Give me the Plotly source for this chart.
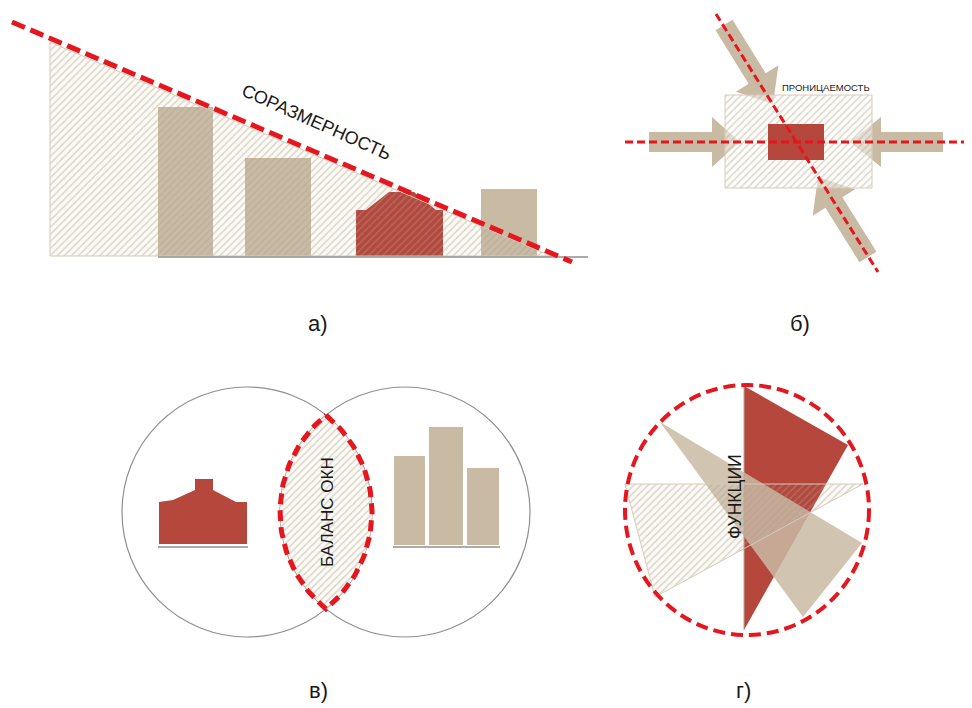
import numpy as np
import plotly.graph_objects as go

W, H = 972, 708
OFF = 8  # page body margin
TAN = "#c9baa3"
RED = "#b5473d"
DASH_RED = "#e5161d"
HATCH = "rgba(168,160,146,0.8)"
HATCH_EDGE = "#d6cbb9"
CREAM = "#fcfaf4"
GREY = "#8f8f8f"

# ---------- panel а) ----------
a_bars_x0 = [158, 245, 481]
a_bars_x1 = [213, 311, 537]
a_bars_top = [107, 158, 189]
a_base_y = 256
a_house_x = [356, 356, 366, 389, 414, 436, 443, 443]
a_house_y = [256, 210, 210, 192, 192, 210, 210, 256]
a_hatch_x = [50, 50, 551]
a_hatch_y = [42, 256, 256]
a_dash_x = [12, 572]
a_dash_y = [22, 262]
a_baseline_x = [158, 588]

# ---------- panel б) ----------
b_hatch_rect = [725, 95, 872, 188]
b_red_rect = [768, 124, 824, 160]
b_hline_x = [625, 970]
b_hline_y = [142, 142]
b_diag_x = [716, 878]
b_diag_y = [14, 272]
b_arrow_tails = [(649, 142), (943, 142), (724, 25), (868, 257)]
b_arrow_tips = [(740, 142), (850, 142), (773, 104), (818, 177)]
b_arrow_headlen = [28, 31, 30, 30]

# ---------- panel в) ----------
c_left_circle = (247, 512, 125)
c_right_circle = (405, 512, 125)
c_house_x = [159, 159, 173, 195, 195, 213, 213, 236, 247, 247]
c_house_y = [544, 502, 500, 490, 479, 479, 490, 502, 502, 544]
c_bars_x0 = [394, 429, 467]
c_bars_x1 = [425, 463, 499]
c_bars_top = [456, 427, 468]
c_base_y = 545

# ---------- panel г) ----------
d_circle = [625, 385, 869, 635]
d_red_x = [744, 848, 744]
d_red_y = [386, 445, 630]
d_tan_x = [660, 862, 803]
d_tan_y = [422, 543, 617]
d_hatch_x = [625, 863, 655]
d_hatch_y = [484, 484, 597]
d_vline_x = [744, 744]
d_vline_y = [387, 630]

labels = ["а)", "б)", "в)", "г)"]
labels_x = [318, 800, 318, 743]
labels_y = [323, 323, 690, 690]

fig = go.Figure()

def poly(xs, ys, fill=None, line_color=None, line_width=0, opacity=1.0, pattern_bg=None):
    xs = list(xs) + [xs[0]]
    ys = list(ys) + [ys[0]]
    kw = dict(x=xs, y=ys, mode="lines", fill="toself", opacity=opacity,
              hoverinfo="skip", showlegend=False,
              line=dict(color=line_color or "rgba(0,0,0,0)", width=line_width))
    if pattern_bg is not None:
        kw["fillcolor"] = pattern_bg
        kw["fillpattern"] = dict(shape="/", fgcolor=HATCH, bgcolor=pattern_bg,
                                 size=5, solidity=0.3)
    else:
        kw["fillcolor"] = fill
    fig.add_trace(go.Scatter(**kw))

def dline(xs, ys, color, width, dash):
    fig.add_trace(go.Scatter(x=list(xs), y=list(ys), mode="lines", hoverinfo="skip", showlegend=False,
                             line=dict(color=color, width=width, dash=dash)))

def rect(x0, y0, x1, y1, **kw):
    poly([x0, x1, x1, x0], [y0, y0, y1, y1], **kw)

def arrow(tail, tip, hl, sw=10, hw=25):
    t = np.array(tail, float); p = np.array(tip, float)
    d = (p - t) / np.linalg.norm(p - t)
    n = np.array([-d[1], d[0]])
    b = p - d * hl
    pts = [t + n * sw, b + n * sw, b + n * hw, p, b - n * hw, b - n * sw, t - n * sw]
    poly([q[0] for q in pts], [q[1] for q in pts], fill=TAN)

CLEAR = "rgba(255,255,255,0)"

# panel а
poly(a_hatch_x, a_hatch_y, fill=CREAM)
for x0, x1, top in zip(a_bars_x0, a_bars_x1, a_bars_top):
    rect(x0, top, x1, a_base_y, fill=TAN)
poly(a_house_x, a_house_y, fill=RED)
poly(a_hatch_x, a_hatch_y, line_color=HATCH_EDGE, line_width=1, pattern_bg=CLEAR)
dline(a_baseline_x, [a_base_y + 1] * 2, GREY, 1.5, "solid")
dline(a_dash_x, a_dash_y, DASH_RED, 5, "14px,6px")

# panel б
for tl, tp, hl in zip(b_arrow_tails, b_arrow_tips, b_arrow_headlen):
    arrow(tl, tp, hl)
rect(*b_hatch_rect, line_color=HATCH_EDGE, line_width=1, pattern_bg="rgba(252,250,244,0.55)")
rect(*b_red_rect, fill=RED)
dline(b_hline_x, b_hline_y, DASH_RED, 3, "8px,4px")
dline(b_diag_x, b_diag_y, DASH_RED, 3, "8px,4px")

# panel в
poly(c_house_x, c_house_y, fill=RED)
dline([158, 248], [c_base_y + 2] * 2, GREY, 1.5, "solid")
for x0, x1, top in zip(c_bars_x0, c_bars_x1, c_bars_top):
    rect(x0, top, x1, c_base_y, fill=TAN)
dline([393, 500], [c_base_y + 2] * 2, GREY, 1.5, "solid")
(cx1, cy1, r1), (cx2, cy2, r2) = c_left_circle, c_right_circle
for cx, cy, r in (c_left_circle, c_right_circle):
    fig.add_shape(type="circle", xref="x", yref="y", x0=cx - r, x1=cx + r, y0=cy - r, y1=cy + r,
                  line=dict(color=GREY, width=1.2), layer="below")
half = (cx2 - cx1) / 2
th = np.arccos(half / r1)
t1 = np.linspace(-th, th, 60)
t2 = np.linspace(np.pi - th, np.pi + th, 60)
lx = np.concatenate([cx1 + r1 * np.cos(t1), cx2 + r2 * np.cos(t2)])
ly = np.concatenate([cy1 + r1 * np.sin(t1), cy2 + r2 * np.sin(t2)])
poly(lx, ly, pattern_bg=CREAM)
dline(list(lx) + [lx[0]], list(ly) + [ly[0]], DASH_RED, 5, "11px,6px")

# panel г
poly(d_hatch_x, d_hatch_y, fill=CREAM)
poly(d_red_x, d_red_y, fill=RED)
poly(d_tan_x, d_tan_y, fill=TAN, opacity=0.85)
poly(d_hatch_x, d_hatch_y, line_color=HATCH_EDGE, line_width=1, pattern_bg=CLEAR)
dline(d_vline_x, d_vline_y, "#b9a994", 1, "solid")
fig.add_shape(type="circle", xref="x", yref="y", x0=d_circle[0], y0=d_circle[1],
              x1=d_circle[2], y1=d_circle[3], line=dict(color=DASH_RED, width=4, dash="12px,6px"))

FONT = "Arial, Liberation Sans, sans-serif"
ann = [
    dict(x=316, y=122, text="СОРАЗМЕРНОСТЬ", textangle=24, font=dict(size=18)),
    dict(x=826, y=87, text="ПРОНИЦАЕМОСТЬ", textangle=0, font=dict(size=9.5)),
    dict(x=327, y=512, text="БАЛАНС ОКН", textangle=-90, font=dict(size=17)),
    dict(x=735, y=497, text="ФУНКЦИИ", textangle=-90, font=dict(size=17.5)),
]
for t, x, y in zip(labels, labels_x, labels_y):
    ann.append(dict(x=x, y=y, text=t, textangle=0, font=dict(size=22)))
for a in ann:
    a["font"].update(family=FONT, color="#1a1a1a")
    fig.add_annotation(xref="x", yref="y", showarrow=False, **a)

fig.update_layout(width=W - OFF, height=H - OFF, margin=dict(l=0, r=0, t=0, b=0),
                  paper_bgcolor="white", plot_bgcolor="white",
                  xaxis=dict(range=[OFF, W], visible=False, fixedrange=True),
                  yaxis=dict(range=[H, OFF], visible=False, fixedrange=True))
fig.write_html("out.html")
